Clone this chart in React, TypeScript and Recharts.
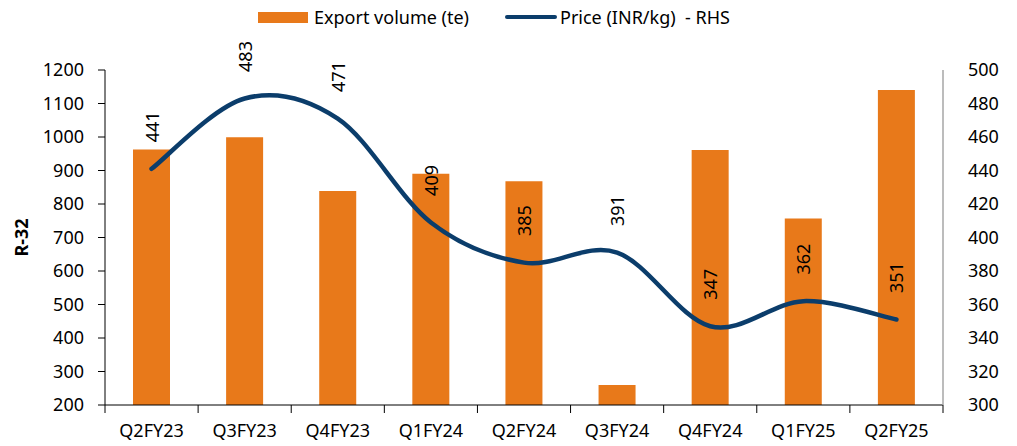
import React from 'react';
import {
  ComposedChart,
  Bar,
  Line,
  XAxis,
  YAxis,
  Legend,
  LabelList,
} from 'recharts';

const quarters = [
  'Q2FY23',
  'Q3FY23',
  'Q4FY23',
  'Q1FY24',
  'Q2FY24',
  'Q3FY24',
  'Q4FY24',
  'Q1FY25',
  'Q2FY25',
];
const exportVolume = [963, 999, 839, 890, 868, 260, 961, 757, 1140];
const price = [441, 483, 471, 409, 385, 391, 347, 362, 351];
const leftTicks = [200, 300, 400, 500, 600, 700, 800, 900, 1000, 1100, 1200];
const rightTicks = [300, 320, 340, 360, 380, 400, 420, 440, 460, 480, 500];

const data = quarters.map((q, i) => ({
  quarter: q,
  volume: exportVolume[i],
  price: price[i],
}));

const ORANGE = '#E8791A';
const NAVY = '#0B3D6B';
const FONT = '"Noto Sans", "Open Sans", sans-serif';
const FS = 18;

// Excel-like smoothed line (Catmull-Rom style bezier)
const excelSmooth = (context: any) => {
  let pts: [number, number][] = [];
  return {
    areaStart() {},
    areaEnd() {},
    lineStart() {
      pts = [];
    },
    lineEnd() {
      if (!pts.length) return;
      context.moveTo(pts[0][0], pts[0][1]);
      for (let i = 0; i < pts.length - 1; i++) {
        const p0 = pts[i - 1] || pts[i];
        const p1 = pts[i];
        const p2 = pts[i + 1];
        const p3 = pts[i + 2] || pts[i + 1];
        context.bezierCurveTo(
          p1[0] + (p2[0] - p0[0]) / 6,
          p1[1] + (p2[1] - p0[1]) / 6,
          p2[0] - (p3[0] - p1[0]) / 6,
          p2[1] - (p3[1] - p1[1]) / 6,
          p2[0],
          p2[1]
        );
      }
    },
    point(x: number, y: number) {
      pts.push([+x, +y]);
    },
  };
};

const QuarterTick = (props: any) => {
  const { x, y, payload, index } = props;
  const half = payload.offset || 46.5;
  const axisY = y - 8;
  return (
    <g>
      <line x1={x - half} y1={axisY} x2={x - half} y2={axisY + 8} stroke="#000" />
      {index === quarters.length - 1 && (
        <line x1={x + half} y1={axisY} x2={x + half} y2={axisY + 8} stroke="#000" />
      )}
      <text
        x={x}
        y={y + 24}
        textAnchor="middle"
        fill="#000"
        fontSize={FS}
        fontFamily={FONT}
      >
        {payload.value}
      </text>
    </g>
  );
};

const PriceLabel = (props: any) => {
  const { x, y, value } = props;
  const cy = y - 42;
  return (
    <text
      x={x}
      y={cy}
      transform={`rotate(-90, ${x}, ${cy})`}
      textAnchor="middle"
      dominantBaseline="central"
      fill="#000"
      fontSize={FS}
      fontFamily={FONT}
    >
      {value}
    </text>
  );
};

const LegendContent = () => (
  <div
    style={{
      display: 'flex',
      alignItems: 'center',
      fontFamily: FONT,
      fontSize: FS,
      color: '#000',
      paddingLeft: 258,
    }}
  >
    <span
      style={{ display: 'inline-block', width: 50, height: 11, background: ORANGE, marginRight: 6 }}
    />
    <span style={{ marginRight: 36 }}>Export volume (te)</span>
    <span
      style={{
        display: 'inline-block',
        width: 52,
        height: 4,
        borderRadius: 2,
        background: NAVY,
        marginRight: 3,
      }}
    />
    <span style={{ whiteSpace: 'pre' }}>Price (INR/kg)  - RHS</span>
  </div>
);

const App: React.FC = () => {
  return (
    <div style={{ position: 'absolute', left: 0, top: 0, background: '#fff' }}>
      <ComposedChart
        width={1017}
        height={446}
        data={data}
        margin={{ top: 70, right: 0, bottom: 0, left: 0 }}
        barCategoryGap="30%"
      >
        <XAxis
          dataKey="quarter"
          height={41}
          axisLine={{ stroke: '#000' }}
          tickLine={false}
          tick={<QuarterTick />}
          interval={0}
        />
        <YAxis
          yAxisId="left"
          width={105}
          domain={[200, 1200]}
          ticks={leftTicks}
          interval={0}
          axisLine={{ stroke: '#000' }}
          tickLine={{ stroke: '#000' }}
          tickSize={7}
          tickMargin={14}
          tick={{ fill: '#000', fontSize: FS, fontFamily: FONT }}
          label={(p: any) => {
            const vb = p.viewBox;
            const lx = vb.x + 21;
            const ly = vb.y + vb.height / 2;
            return (
              <text
                x={lx}
                y={ly}
                transform={`rotate(-90, ${lx}, ${ly})`}
                textAnchor="middle"
                dominantBaseline="central"
                fontWeight="bold"
                fontSize={FS}
                fontFamily={FONT}
                fill="#000"
              >
                R-32
              </text>
            );
          }}
        />
        <YAxis
          yAxisId="right"
          orientation="right"
          width={74}
          domain={[300, 500]}
          ticks={rightTicks}
          interval={0}
          axisLine={{ stroke: '#A6A6A6', strokeWidth: 1.5 }}
          tickLine={false}
          tickSize={0}
          tickMargin={25}
          tick={{ fill: '#000', fontSize: FS, fontFamily: FONT, textAnchor: 'start' }}
        />
        <Legend
          verticalAlign="middle"
          align="center"
          content={<LegendContent />}
          wrapperStyle={{ top: 5, left: 0, width: 1017 }}
        />
        <Bar
          yAxisId="left"
          dataKey="volume"
          name="Export volume (te)"
          fill={ORANGE}
          barSize={37}
          isAnimationActive={false}
        />
        <Line
          yAxisId="right"
          dataKey="price"
          name="Price (INR/kg)  - RHS"
          type={excelSmooth as any}
          stroke={NAVY}
          strokeWidth={4.5}
          strokeLinecap="round"
          dot={false}
          activeDot={false}
          isAnimationActive={false}
        >
          <LabelList dataKey="price" content={<PriceLabel />} />
        </Line>
      </ComposedChart>
    </div>
  );
};

export default App;
